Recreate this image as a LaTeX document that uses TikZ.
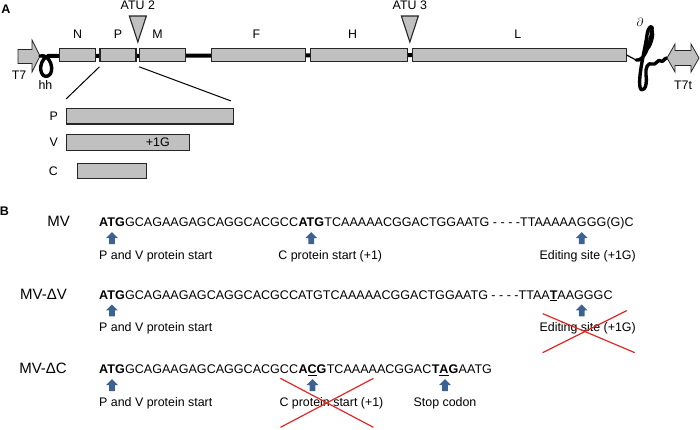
\documentclass[tikz,border=0pt]{standalone}
\usepackage{fontspec}
\setmainfont{Liberation Sans}
\usetikzlibrary{positioning, shapes.arrows, calc, backgrounds}
\definecolor{genegray}{RGB}{192,192,192}
\definecolor{arrowblue}{RGB}{59,98,145}
\definecolor{crossred}{RGB}{228,38,38}
\tikzset{
	gene/.style={draw=black!85, fill=genegray, line width=1.1pt, minimum height=13.5pt, inner sep=0pt},
	subgene/.style={gene, minimum height=15.5pt},
	txt/.style={font=\fontsize{12.4}{14}\selectfont, inner sep=0pt},
	glabel/.style={txt},
	rowlabel/.style={font=\fontsize{15}{17}\selectfont, inner sep=0pt},
	panel/.style={font=\fontsize{12.5}{14}\selectfont\bfseries, inner sep=0pt},
	seq/.style={txt, font=\fontsize{12.55}{14}\selectfont, text height=9pt, text depth=2.5pt},
	lbl/.style={txt, text height=9pt, text depth=2.5pt},
	uparrow/.style={single arrow, draw=none, fill=arrowblue, shape border rotate=90, inner sep=2.7pt, single arrow head extend=3pt, minimum height=12pt},
	backbone/.style={line width=4pt, black},
	atu/.style={draw=black!85, fill=genegray, line width=1.1pt},
	promoter/.style={draw=black!85, fill=genegray, line width=0.8pt},
	ribozyme/.style={line width=3.4pt, line cap=round, line join=round},
	cross/.style={crossred, line width=1.2pt},
	zoomline/.style={line width=1pt},
}
\begin{document}
\begin{tikzpicture}[x=1pt, y=-1pt]
	\useasboundingbox (0,0) rectangle (700,429);
	
	\node[panel] (pA) at (6,9) {A};
	\node[gene, minimum width=36.4pt] (gN) at (77.5,55) {};
	\node[gene, minimum width=36pt] (gP) at (118,55) {};
	\node[gene, minimum width=45.6pt] (gM) at (162.5,55) {};
	\node[gene, minimum width=94pt] (gF) at (258.3,55) {};
	\node[gene, minimum width=97.3pt] (gH) at (358.7,55) {};
	\node[gene, minimum width=213.7pt] (gL) at (519.2,55) {};
	\node[glabel, above=9pt of gN] (lN) {N};
	\node[glabel, above=9pt of gP] (lP) {P};
	\node[glabel, above=9pt of gM, xshift=-5pt] (lM) {M};
	\node[glabel, above=9pt of gF, xshift=-2pt] (lF) {F};
	\node[glabel, above=9pt of gH, xshift=-6pt] (lH) {H};
	\node[glabel, above=9pt of gL, xshift=-1.5pt] (lL) {L};
	
	\coordinate (hhEnd) at (47,56);
	\begin{scope}[on background layer]
		\draw[backbone] (hhEnd) -- (gL.west);
	\end{scope}
	
	\coordinate (atu2) at ($(gP.east)!0.5!(gM.west)+(0,13pt)$);
	\coordinate (atu3) at ($(gH.east)!0.5!(gL.west)+(0,13pt)$);
	\draw[atu] (atu2) -- ++(-8.5pt,26pt) -- ++(17pt,0pt) -- cycle;
	\draw[atu] (atu3) -- ++(-8.5pt,26pt) -- ++(17pt,0pt) -- cycle;
	\node[glabel, anchor=south] (atu2lab) at ([yshift=32pt]atu2) {ATU 2};
	\node[glabel, anchor=south] (atu3lab) at ([yshift=32pt]atu3) {ATU 3};
	
	\draw[promoter] (18,49.5) -- (32,49.5) -- (32,40) -- (40,56) -- (32,72) -- (32,63.5) -- (18,63.5) -- cycle;
	\node[glabel] (t7) at (19,75) {T7};
	\draw[ribozyme] (40,56) .. controls (50,53) and (56,72) .. (48,76) .. controls (40,79) and (37,63) .. (hhEnd);
	\node[glabel] (hh) at (45.5,85) {hh};
	
	\coordinate (rzStart) at (636,60);
	\draw[line width=1.2pt] (gL.east) -- (rzStart);
	\draw[ribozyme] (rzStart) .. controls (644,62) and (650,45) .. (652,30) .. controls (653,24) and (648,26) .. (647,35) .. controls (645,50) and (638,75) .. (640,87) .. controls (641,93) and (648,90) .. (646,75) .. controls (645,68) and (648,62) .. (652,64) .. controls (656,66) and (658,58) .. (661,61) .. controls (663,63) and (664,58) .. (667,58);
	\draw[ribozyme, line width=2pt] (650,32) .. controls (655,26) and (654,40) .. (649,48);
	\node[glabel] (rz) at (640,22) {$\partial$};
	\draw[promoter] (667,58) -- (675,44) -- (675,50.5) -- (691,50.5) -- (691,44) -- (699,58) -- (691,72) -- (691,65.5) -- (675,65.5) -- (675,72) -- cycle;
	\node[glabel] (t7t) at (683,85) {T7t};
	
	\node[subgene, minimum width=166.6pt] (pP) at (150,116.2) {};
	\node[subgene, minimum width=122.6pt] (pV) at (128,142.5) {};
	\node[subgene, minimum width=69.4pt] (pC) at (112,170.8) {};
	\node[glabel, left=8pt of pP] (slP) {P};
	\node[glabel, left=8pt of pV] (slV) {V};
	\node[glabel, anchor=east] (slC) at ([xshift=-8pt]pP.west |- pC) {C};
	\node[glabel] (plus) at ([xshift=-32pt]pV.east) {+1G};
	\draw[zoomline] ([yshift=-4.5pt]gP.south west) -- ([yshift=9pt]pP.north west);
	\draw[zoomline] ([yshift=-4.5pt]gM.south west) -- ([xshift=-3pt,yshift=7pt]pP.north east);
	
	\node[panel] (pB) at (4.5,211) {B};
	\node[rowlabel, anchor=base east] (mv) at (70,226.7) {MV};
	\node[rowlabel, anchor=base east] (mvdv) at (67,299) {MV-ΔV};
	\node[rowlabel, anchor=base east] (mvdc) at (67,373.7) {MV-ΔC};
	
	\node[seq, anchor=base west] (r1a) at (99,226.7) {\textbf{ATG}};
	\node[seq, right=0pt of r1a] (r1b) {GCAGAAGAGCAGGCACGCC};
	\node[seq, right=0pt of r1b] (r1c) {\textbf{ATG}};
	\node[seq, right=0pt of r1c] (r1d) {TCAAAAACGGACTGGAATG - - - -TTAAAAA};
	\node[seq, right=0pt of r1d] (r1e) {G};
	\node[seq, right=0pt of r1e] (r1f) {GG(G)C};
	\node[uparrow, below=2.5pt of r1a] (a1) {};
	\node[uparrow, below=2.5pt of r1c] (c1) {};
	\node[uparrow, below=2.5pt of r1e] (e1) {};
	\node[lbl, anchor=north west] (pv1) at ([yshift=-6pt]a1.south -| r1a.west) {P and V protein start};
	\node[lbl, below=6pt of c1, xshift=19pt] (cp1) {C protein start (+1)};
	\node[lbl, below=6pt of e1, xshift=6pt] (ed1) {Editing site (+1G)};
	
	\node[seq, anchor=base west] (r2a) at (99,299) {\textbf{ATG}};
	\node[seq, right=0pt of r2a] (r2b) {GCAGAAGAGCAGGCACGCCATGTCAAAAACGGACTGGAATG - - - -TTAA\textbf{\underline{T}}AAGGGC};
	\node[uparrow, below=2.5pt of r2a] (a2) {};
	\node[uparrow] (e2) at (e1 |- a2) {};
	\node[lbl, anchor=north west] (pv2) at ([yshift=-6pt]a2.south -| r2a.west) {P and V protein start};
	\node[lbl, below=6pt of e2, xshift=6pt] (ed2) {Editing site (+1G)};
	\draw[cross] ([xshift=-45pt,yshift=15pt]ed2.center) -- ([xshift=47pt,yshift=-24pt]ed2.center);
	\draw[cross] ([xshift=-45pt,yshift=-24pt]ed2.center) -- ([xshift=39pt,yshift=18pt]ed2.center);
	
	\node[seq, anchor=base west] (r3a) at (99,373.7) {\textbf{ATG}};
	\node[seq, right=0pt of r3a] (r3b) {GCAGAAGAGCAGGCACGCC};
	\node[seq, right=0pt of r3b] (r3c) {\textbf{A\underline{C}G}};
	\node[seq, right=0pt of r3c] (r3d) {TCAAAAACGGAC};
	\node[seq, right=0pt of r3d] (r3e) {\textbf{T\underline{A}G}};
	\node[seq, right=0pt of r3e] (r3f) {AATG};
	\node[uparrow, below=2.5pt of r3a] (a3) {};
	\node[uparrow, below=2.5pt of r3c] (c3) {};
	\node[uparrow, below=2.5pt of r3e] (s3) {};
	\node[lbl, anchor=north west] (pv3) at ([yshift=-6pt]a3.south -| r3a.west) {P and V protein start};
	\node[lbl, below=6pt of c3, xshift=19pt] (cp3) {C protein start (+1)};
	\node[lbl, below=6pt of s3] (sc3) {Stop codon};
	\draw[cross] ([xshift=-51pt,yshift=25pt]cp3.center) -- ([xshift=42pt,yshift=-24pt]cp3.center);
	\draw[cross] ([xshift=-51pt,yshift=-24pt]cp3.center) -- ([xshift=42pt,yshift=25pt]cp3.center);
\end{tikzpicture}
\end{document}
